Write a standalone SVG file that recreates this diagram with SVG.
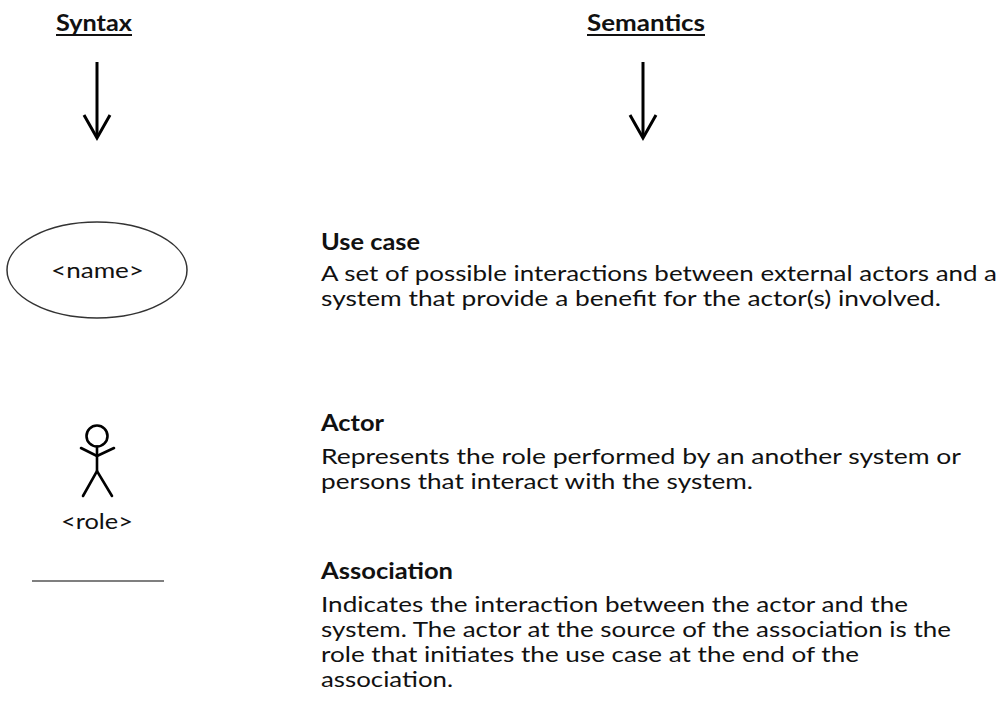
<svg xmlns="http://www.w3.org/2000/svg" width="1005" height="720" viewBox="0 0 1005 720">
  <style>
    text { font-family: Lato, "Open Sans", "Liberation Sans", sans-serif; fill: #111; font-size: 22px; }
    .hd { font-weight: bold; }
    .ul { stroke: #111; stroke-width: 1.8; }
    .arrow { stroke: #000; stroke-width: 3; fill: none; stroke-linecap: butt; }
    .fig { stroke: #000; stroke-width: 2.6; fill: none; stroke-linecap: round; }
  </style>
  <rect width="1005" height="720" fill="#fff"/>

  <g id="syntax-header">
    <text class="hd" x="56" y="31" textLength="76" lengthAdjust="spacingAndGlyphs">Syntax</text>
    <line class="ul" x1="56" y1="35" x2="132" y2="35"/>
  </g>
  <g id="semantics-header">
    <text class="hd" x="587" y="31" textLength="118" lengthAdjust="spacingAndGlyphs">Semantics</text>
    <line class="ul" x1="587" y1="35" x2="705" y2="35"/>
  </g>

  <g id="connectors">
    <g id="arrow-syntax">
      <line class="arrow" x1="97" y1="62" x2="97" y2="137"/>
      <polyline class="arrow" points="84,115 97,138 110,115"/>
    </g>
    <g id="arrow-semantics">
      <line class="arrow" x1="643" y1="62" x2="643" y2="137"/>
      <polyline class="arrow" points="630,115 643,138 656,115"/>
    </g>
  </g>

  <g id="usecase-symbol">
    <ellipse cx="97" cy="270" rx="90" ry="48" fill="#fff" stroke="#333" stroke-width="1.5"/>
    <text x="51" y="278" textLength="93" lengthAdjust="spacingAndGlyphs">&lt;name&gt;</text>
  </g>
  <g id="usecase-desc">
    <text class="hd" x="321" y="250" textLength="99" lengthAdjust="spacingAndGlyphs">Use case</text>
    <text x="321" y="280.5" textLength="676" lengthAdjust="spacingAndGlyphs">A set of possible interactions between external actors and a</text>
    <text x="321" y="305.5" textLength="620" lengthAdjust="spacingAndGlyphs">system that provide a benefit for the actor(s) involved.</text>
  </g>

  <g id="actor-symbol">
    <circle class="fig" cx="97" cy="436" r="10.5"/>
    <line class="fig" x1="97" y1="446.5" x2="97" y2="471"/>
    <polyline class="fig" points="81,448 97,456 114,448"/>
    <polyline class="fig" points="83,496 97,471 112,496"/>
    <text x="61" y="529" textLength="72" lengthAdjust="spacingAndGlyphs">&lt;role&gt;</text>
  </g>
  <g id="actor-desc">
    <text class="hd" x="321" y="431" textLength="63" lengthAdjust="spacingAndGlyphs">Actor</text>
    <text x="321" y="463.5" textLength="640" lengthAdjust="spacingAndGlyphs">Represents the role performed by an another system or</text>
    <text x="321" y="488.5" textLength="432" lengthAdjust="spacingAndGlyphs">persons that interact with the system.</text>
  </g>

  <g id="association-symbol">
    <line x1="32" y1="581" x2="164" y2="581" stroke="#000" stroke-width="1.2"/>
  </g>
  <g id="association-desc">
    <text class="hd" x="321" y="579" textLength="132" lengthAdjust="spacingAndGlyphs">Association</text>
    <text x="321" y="612" textLength="587" lengthAdjust="spacingAndGlyphs">Indicates the interaction between the actor and the</text>
    <text x="321" y="637" textLength="630" lengthAdjust="spacingAndGlyphs">system. The actor at the source of the association is the</text>
    <text x="321" y="662" textLength="538" lengthAdjust="spacingAndGlyphs">role that initiates the use case at the end of the</text>
    <text x="321" y="687" textLength="132" lengthAdjust="spacingAndGlyphs">association.</text>
  </g>
</svg>
